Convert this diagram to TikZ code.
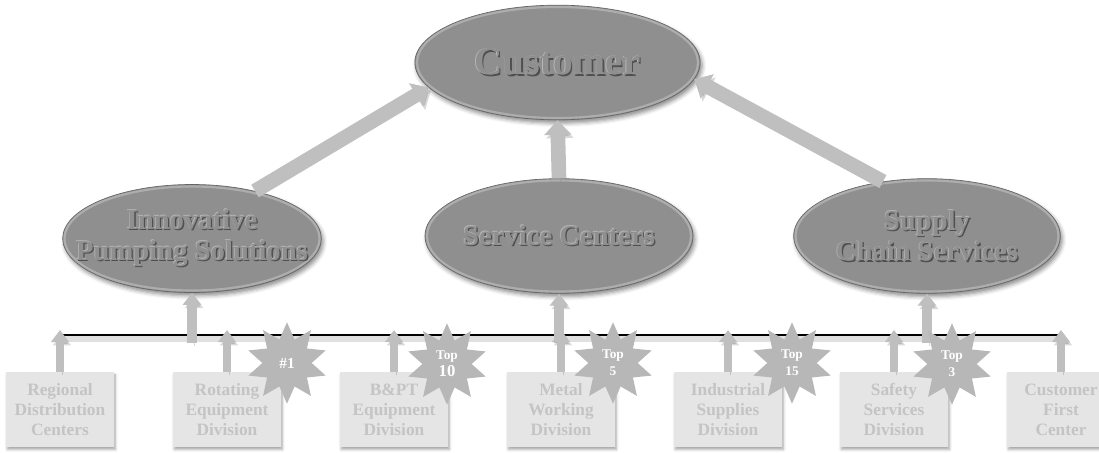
\documentclass[tikz,border=0pt]{standalone}
\usepackage{fontspec}
\setmainfont{Liberation Serif}
\usetikzlibrary{shapes.geometric,arrows.meta,shadows.blur}
\definecolor{ellfill}{HTML}{8F8F8F}
\definecolor{ellrim}{HTML}{ADADAD}
\definecolor{elledge}{HTML}{666666}
\definecolor{embdark}{HTML}{4F4F4F}
\definecolor{emblight}{HTML}{B5B5B5}
\definecolor{arrgray}{HTML}{BFBFBF}
\definecolor{boxfill}{HTML}{E5E5E5}
\definecolor{boxtext}{HTML}{C4C4C4}
\definecolor{starfill}{HTML}{B7B7B7}
\newcommand\embtxt[1]{\leavevmode\rlap{\kern1pt\raisebox{-1pt}{\textcolor{embdark}{#1}}}\rlap{\kern-0.5pt\raisebox{0.5pt}{\textcolor{emblight}{#1}}}\textcolor{ellfill}{#1}}
\begin{document}
\begin{tikzpicture}[x=0.75pt,y=-0.75pt,
  ell/.style={ellipse, fill=ellfill, draw=elledge, line width=0.5pt, inner sep=0pt,
    blur shadow={shadow xshift=1.5pt, shadow yshift=-2.5pt, shadow blur radius=3pt, shadow opacity=45}},
  rim/.style={draw=ellrim, line width=1.6pt},
  elltext/.style={inner sep=0pt, align=center},
  bigtext/.style={font=\bfseries\fontsize{29.5}{31}\selectfont},
  midtext/.style={font=\bfseries\fontsize{21.5}{23}\selectfont},
  arrsh/.style={preaction={draw=black, opacity=0.15, transform canvas={shift={(1.5pt,-2.5pt)}}}},
  bigarr/.style={draw=arrgray, line width=11pt, -{Triangle[width=20pt,length=11pt]}, arrsh},
  midarr/.style={draw=arrgray, line width=7.5pt, -{Triangle[width=13.5pt,length=9pt]}, arrsh},
  smallarr/.style={draw=arrgray, line width=6pt, -{Triangle[width=13pt,length=9pt]}, arrsh},
  hline/.style={draw=black, line width=1.5pt, preaction={draw=black, opacity=0.12, line width=4pt, transform canvas={shift={(0pt,-3pt)}}}},
  divbox/.style={rectangle, fill=boxfill, minimum width=81pt, minimum height=56pt, inner sep=0pt, align=center, text=boxtext,
    font=\bfseries\fontsize{13}{15}\selectfont,
    blur shadow={shadow xshift=1pt, shadow yshift=-2pt, shadow blur radius=2pt, shadow opacity=35}},
  rank/.style={star, star points=10, star point ratio=1.65, fill=starfill, minimum size=61pt, inner sep=0pt, align=center, text=white,
    font=\bfseries\fontsize{10}{13}\selectfont}
]
\useasboundingbox (0,0) rectangle (1099,453);

% horizontal bar
\coordinate (lA) at (60,335);
\coordinate (lB) at (1061,335);
\draw[hline] (lA) -- (lB);

% ellipses
\node[ell, minimum width=214pt, minimum height=86pt] (cust) at (557.5,62.5) {};
\draw[rim] (cust.center) ellipse [x radius=140.5, y radius=55.5];
\node[elltext, bigtext] (custt) at (cust.center) {\embtxt{Customer}};

\node[ell, minimum width=194pt, minimum height=81pt] (ips) at (192,238.5) {};
\draw[rim] (ips.center) ellipse [x radius=127.5, y radius=52];
\node[elltext, midtext] (ipst) at (ips.center) {\embtxt{Innovative}\\\embtxt{Pumping Solutions}};

\node[ell, minimum width=201pt, minimum height=86pt] (sc) at (559,236) {};
\draw[rim] (sc.center) ellipse [x radius=132, y radius=55.5];
\node[elltext, midtext] (sct) at (sc.center) {\embtxt{Service Centers}};

\node[ell, minimum width=200pt, minimum height=86pt] (scs) at (927,236) {};
\draw[rim] (scs.center) ellipse [x radius=131.5, y radius=55.5];
\node[elltext, midtext] (scst) at (scs.center) {\embtxt{Supply}\\\embtxt{Chain Services}};

% arrows to customer
\draw[bigarr] (ips.37) -- (cust.191);
\draw[bigarr] (sc.north) -- (cust.south);
\draw[bigarr] (scs.129) -- (cust.353);

% arrows from bar to the three groups
\coordinate (m1) at (192,343);
\coordinate (m2) at (559,343);
\coordinate (m3) at (927,343);
\draw[midarr] (m1) -- (ips.south);
\draw[midarr] (m2) -- (sc.south);
\draw[midarr] (m3) -- (scs.south);

% division boxes
\node[divbox] (b1) at (60,409.5) {Regional\\Distribution\\Centers};
\node[divbox] (b2) at (227,409.5) {Rotating\\Equipment\\Division};
\node[divbox] (b3) at (394,409.5) {B\&PT\\Equipment\\Division};
\node[divbox] (b4) at (561,409.5) {Metal\\Working\\Division};
\node[divbox] (b5) at (728,409.5) {Industrial\\Supplies\\Division};
\node[divbox] (b6) at (894,409.5) {Safety\\Services\\Division};
\node[divbox] (b7) at (1061,409.5) {Customer\\First\\Center};

% small arrows from boxes to bar
\foreach \i/\x in {1/60,2/227,3/394,4/561,5/728,6/894,7/1061}{
  \coordinate (t\i) at (\x,330);
  \draw[smallarr] (b\i.north) -- (t\i);
}

% rank stars
\node[rank] (r1) at (287,363) {{\fontsize{11.5}{13}\selectfont\#1}};
\node[rank] (r2) at (447,364) {Top\\{\fontsize{12.5}{13}\selectfont 10}};
\node[rank] (r3) at (613,363) {Top\\5};
\node[rank] (r4) at (792,363) {Top\\15};
\node[rank] (r5) at (952,364) {Top\\3};
\end{tikzpicture}
\end{document}
